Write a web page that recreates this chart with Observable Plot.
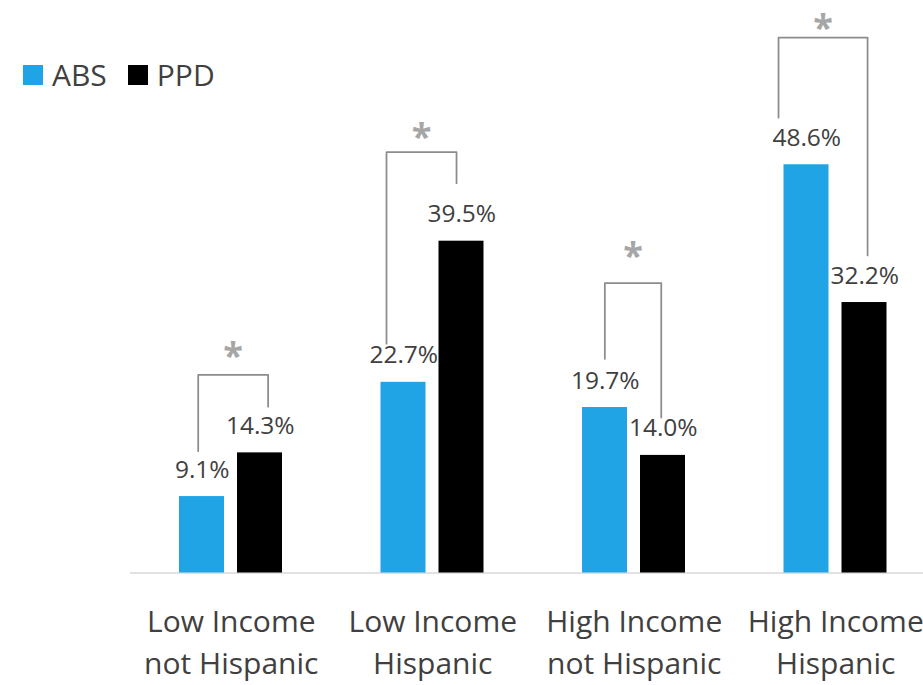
<!DOCTYPE html>
<html>
<head>
<meta charset="utf-8">
<script src="https://cdn.jsdelivr.net/npm/d3@7"></script>
<script src="https://cdn.jsdelivr.net/npm/@observablehq/plot@0.6"></script>
<style>
  html, body { margin: 0; padding: 0; background: #fff; overflow: hidden; }
  #chart { position: relative; width: 923px; height: 685px; overflow: hidden; }
  #chart svg { display: block; }
  .key-swatches { position: absolute !important; left: 23px; top: 54px; margin: 0 !important;
                  font-family: "Open Sans", sans-serif !important; font-size: 30px !important;
                  color: #404040; min-height: 0 !important; }
  .key-swatch { margin-right: 21px !important; }
  .key-swatch > svg { margin-right: 9px !important; }
</style>
</head>
<body>
<div id="chart"></div>
<script>
// Share of respondents by income / ethnicity group
const categories = ["Low Income\nnot Hispanic", "Low Income\nHispanic", "High Income\nnot Hispanic", "High Income\nHispanic"];
const series = ["ABS", "PPD"];
const seriesColors = ["#20a4e6", "#000000"];
const absValues = [9.1, 22.7, 19.7, 48.6];
const ppdValues = [14.3, 39.5, 14.0, 32.2];

// Significance brackets: leg offsets (in group units), levels in percent
const bracketLeft = [-0.164, -0.2295, -0.146, -0.284];
const bracketRight = [0.183, 0.118, 0.134, 0.158];
const bracketTop = [23.6, 50.1, 34.5, 63.75];
const bracketLeftEnd = [14.5, 27.3, 25.5, 54.2];
const bracketRightEnd = [19.8, 46.4, 18.5, 37.8];
const starLevel = [26.6, 52.7, 38.5, 65.7];

const rows = categories.flatMap((c, i) => [
  {group: i, series: "ABS", value: absValues[i]},
  {group: i, series: "PPD", value: ppdValues[i]}
]);
const absRows = rows.filter(d => d.series === "ABS");
const ppdRows = rows.filter(d => d.series === "PPD");

const bracketPoints = categories.flatMap((c, i) => [
  {b: i, x: i + bracketLeft[i], y: bracketLeftEnd[i]},
  {b: i, x: i + bracketLeft[i], y: bracketTop[i]},
  {b: i, x: i + bracketRight[i], y: bracketTop[i]},
  {b: i, x: i + bracketRight[i], y: bracketRightEnd[i]}
]);
const stars = categories.map((c, i) => ({x: i + (bracketLeft[i] + bracketRight[i]) / 2, y: starLevel[i]}));

const pct = d => d.value.toFixed(1) + "%";

const plot = Plot.plot({
  width: 923,
  height: 685,
  marginLeft: 130,
  marginRight: 0,
  marginTop: 0,
  marginBottom: 112.5,
  style: {fontFamily: "Open Sans, sans-serif", color: "#404040", background: "#fff", overflow: "hidden"},
  x: {type: "linear", domain: [-0.5, 3.5], range: [130, 936]},
  y: {domain: [0, 60], range: [572.5, 68.5], axis: null},
  color: {domain: series, range: seriesColors},
  marks: [
    Plot.ruleY([0], {stroke: "#d9d9d9", strokeWidth: 1.5}),
    Plot.rectY(absRows, {x1: d => d.group - 0.5, x2: d => d.group, y: "value", fill: "series", insetLeft: 49, insetRight: 6.75}),
    Plot.rectY(ppdRows, {x1: d => d.group, x2: d => d.group + 0.5, y: "value", fill: "series", insetLeft: 6.25, insetRight: 49.5}),
    Plot.text(absRows, {x: "group", y: "value", text: pct, dx: -29, dy: -19, lineAnchor: "bottom", fontSize: 24.5, fill: "#404040"}),
    Plot.text(ppdRows, {x: "group", y: "value", text: pct, dx: 29, dy: -19, lineAnchor: "bottom", fontSize: 24.5, fill: "#404040"}),
    Plot.line(bracketPoints, {x: "x", y: "y", z: "b", stroke: "#8c8c8c", strokeWidth: 1.75, curve: "linear"}),
    Plot.text(stars, {x: "x", y: "y", text: () => "*", fontSize: 36, fontWeight: "bold", fill: "#a6a6a6", lineAnchor: "middle", dy: 7}),
    Plot.axisX({ticks: [0, 1, 2, 3], tickFormat: i => categories[i], tickSize: 0, tickPadding: 30, fontSize: 30, lineHeight: 1.383, label: null})
  ]
});

const chart = document.getElementById("chart");
chart.appendChild(plot);
const key = plot.legend("color", {className: "key", swatchSize: 20});
chart.appendChild(key);
</script>
</body>
</html>
